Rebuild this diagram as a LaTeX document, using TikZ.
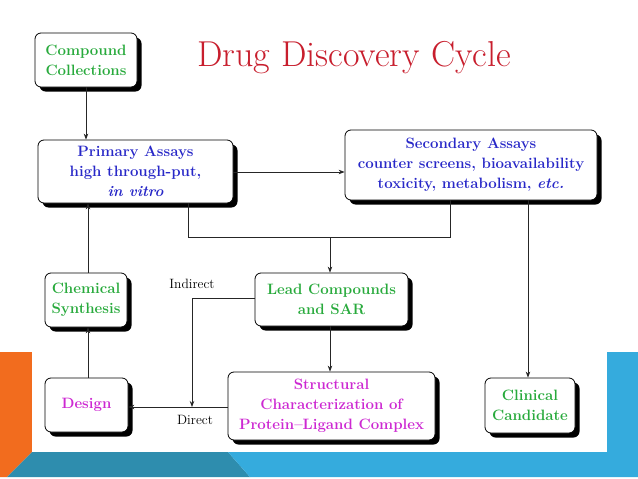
\documentclass[tikz,border=0pt]{standalone}
\usetikzlibrary{arrows.meta,shadows}
\definecolor{tgreen}{RGB}{40,170,60}
\definecolor{tblue}{RGB}{40,40,200}
\definecolor{tmag}{RGB}{205,40,210}
\definecolor{tred}{RGB}{200,30,45}
\definecolor{borange}{RGB}{242,108,30}
\definecolor{bteal}{RGB}{46,141,174}
\definecolor{blight}{RGB}{53,171,221}
\tikzset{
  box/.style={draw=black, line width=0.8pt, rounded corners=6pt, fill=white,
    align=center, font=\fontsize{15}{20}\selectfont\bfseries, inner sep=1.5pt,
    drop shadow={shadow xshift=4.5pt, shadow yshift=-4.5pt, opacity=1, fill=black}},
  conn/.style={draw=black!85, line width=0.8pt},
  arr/.style={conn, -{Stealth[length=6pt,width=4.5pt]}},
  lbl/.style={font=\fontsize{13.5}{15}\selectfont, text=black}
}
\begin{document}
\begin{tikzpicture}[x=1pt,y=-1pt]
\useasboundingbox (0,0) rectangle (638,479);
\fill[white] (0,0) rectangle (638,479);
% decorations
\fill[borange] (0,352) rectangle (32,452);
\fill[borange] (0,452) -- (32,452) -- (7,477) -- (0,477) -- cycle;
\fill[bteal] (32,452) -- (228,452) -- (250,477) -- (7,477) -- cycle;
\fill[blight] (228,452) -- (638,452) -- (638,477) -- (250,477) -- cycle;
\fill[blight] (607,352) rectangle (638,452);
% title
\node[anchor=base, text=tred, font=\fontsize{36}{40}\selectfont] (title) at (354,66) {Drug Discovery Cycle};
% boxes
\node[box, text=tgreen, minimum width=102pt, minimum height=54pt] (cc) at (86,60) {Compound\\Collections};
\node[box, text=tblue, minimum width=195pt, minimum height=63pt] (pa) at (135.5,171.5) {Primary Assays\\high through-put,\\\textit{in vitro}};
\node[box, text=tblue, minimum width=252pt, minimum height=70pt] (sa) at (471,165) {Secondary Assays\\counter screens, bioavailability\\toxicity, metabolism, \textit{etc.}};
\node[box, text=tgreen, minimum width=153pt, minimum height=53pt] (lead) at (331.5,299.5) {Lead Compounds\\and SAR};
\node[box, text=tgreen, minimum width=82pt, minimum height=54pt] (cs) at (86,300) {Chemical\\Synthesis};
\node[box, text=tmag, minimum width=83pt, minimum height=54pt] (des) at (86.5,405) {Design};
\node[box, text=tmag, minimum width=207pt, minimum height=68pt] (st) at (331.5,406) {Structural\\Characterization of\\Protein--Ligand Complex};
\node[box, text=tgreen, minimum width=90pt, minimum height=55pt] (cl) at (530,405.5) {Clinical\\Candidate};
% coordinates
\coordinate (pab) at (188,203);
\coordinate (j1) at (188,237);
\coordinate (j2) at (330,237);
\coordinate (j3) at (450,237);
\coordinate (sab) at (450,200);
\coordinate (ind1) at (192,298);
\coordinate (ind2) at (192,407);
% connectors
\draw[arr] (cc.south) -- (cc.south |- pa.north);
\draw[arr] (pa.east |- 0,172) -- (sa.west |- 0,172);
\draw[conn] (pab) -- (j1) -- (j3) -- (sab);
\draw[arr] (j2) -- (j2 |- lead.north);
\draw[arr] (sa.south -| 528,0) -- (cl.north -| 528,0);
\draw[arr] (lead.south -| 330,0) -- (st.north -| 330,0);
\draw[arr] (st.west |- 0,407) -- (des.east |- 0,407);
\draw[arr] (lead.west |- 0,298) -- (ind1) -- (ind2);
\draw[arr] (des.north -| 88,0) -- (cs.south -| 88,0);
\draw[arr] (cs.north -| 88,0) -- (pa.south -| 88,0);
% labels
\node[lbl] (lind) at (192,284) {Indirect};
\node[lbl] (ldir) at (195,420) {Direct};
\end{tikzpicture}
\end{document}
